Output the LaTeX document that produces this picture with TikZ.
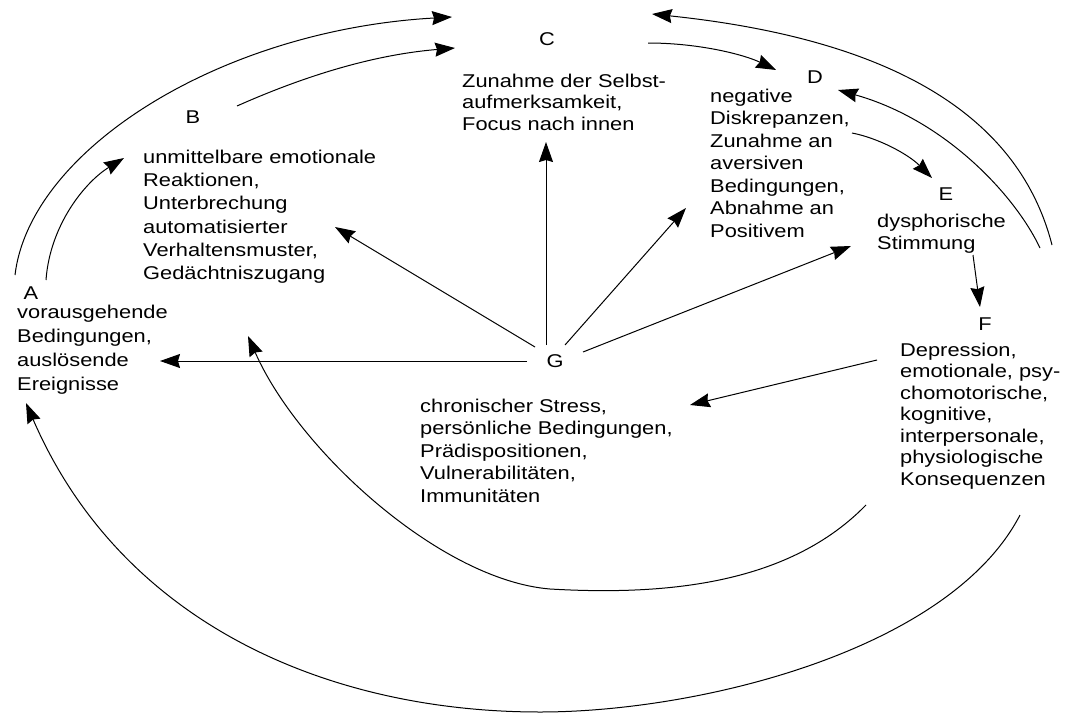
\documentclass[tikz,border=0pt]{standalone}
\usepackage{fontspec}
\setmainfont{Liberation Sans}[FakeStretch=1.18]
\usetikzlibrary{arrows.meta}
\tikzset{
  txt/.style={anchor=north west, inner sep=0pt, align=left, font=\fontsize{18.5}{#1}\selectfont},
  lab/.style={anchor=base, inner sep=0pt, font=\fontsize{18.5}{22}\selectfont},
  arr/.style={line width=1pt, -{Stealth[length=20pt,width=14pt,inset=2pt]}},
}
\newcommand{\fs}{\rule{0pt}{14pt}}
\begin{document}
\begin{tikzpicture}[x=1pt,y=-1pt]
\useasboundingbox (0,0) rectangle (1069,715);
% letters
\node[lab] (Al) at (31,299) {A};
\node[lab] (Bl) at (193,123) {B};
\node[lab] (Cl) at (547,45) {C};
\node[lab] (Dl) at (815,83) {D};
\node[lab] (El) at (946,200) {E};
\node[lab] (Fl) at (985,330) {F};
\node[lab] (Gl) at (555,367) {G};
% texts
\node[txt=24] (At) at (17,304) {\fs vorausgehende\\Bedingungen,\\auslösende\\Ereignisse};
\node[txt=23.3] (Bt) at (143,149) {\fs unmittelbare emotionale\\Reaktionen,\\Unterbrechung\\automatisierter\\Verhaltensmuster,\\Gedächtniszugang};
\node[txt=21.5] (Ct) at (462,73) {\fs Zunahme der Selbst-\\aufmerksamkeit,\\Focus nach innen};
\node[txt=22.5] (Dt) at (710,88) {\fs negative\\Diskrepanzen,\\Zunahme an\\aversiven\\Bedingungen,\\Abnahme an\\Positivem};
\node[txt=22] (Et) at (877,213) {\fs dysphorische\\Stimmung};
\node[txt=21.5] (Ft) at (900,342) {\fs Depression,\\emotionale, psy-\\chomotorische,\\kognitive,\\interpersonale,\\physiologische\\Konsequenzen};
\node[txt=22.5] (Gt) at (420,398) {\fs chronischer Stress,\\persönliche Bedingungen,\\Prädispositionen,\\Vulnerabilitäten,\\Immunitäten};
% connector end points
\coordinate (a1) at (46,280);   \coordinate (b1) at (124,158);
\coordinate (a2) at (15,275);   \coordinate (c2) at (452,17);
\coordinate (b3) at (237,106);  \coordinate (c3) at (455,48);
\coordinate (c4) at (648,43);   \coordinate (d4) at (776,70);
\coordinate (d5) at (852,133);  \coordinate (e5) at (932,178);
\coordinate (e6) at (973,255);  \coordinate (f6) at (980,307);
\coordinate (f7) at (1040,248); \coordinate (d7) at (838,90);
\coordinate (f8) at (1052,245); \coordinate (c8) at (652,14);
\coordinate (gA) at (527,361);  \coordinate (aG) at (160,361);
\coordinate (gB) at (535,347);  \coordinate (bG) at (335,227);
\coordinate (gC) at (546,345);  \coordinate (cG) at (546,142);
\coordinate (gD) at (565,345);  \coordinate (dG) at (686,208);
\coordinate (gE) at (583,352);  \coordinate (eG) at (851,246);
\coordinate (fG) at (877,360);  \coordinate (gF) at (690,405);
\coordinate (f9) at (866,505);  \coordinate (m9) at (550,589); \coordinate (b9) at (248,336);
\coordinate (f10) at (1020,515); \coordinate (m10) at (540,712); \coordinate (a10) at (26,403);
% connectors
\draw[arr] (a1) .. controls (50,225) and (85,182) .. (b1);
\draw[arr] (a2) .. controls (30,150) and (220,30) .. (c2);
\draw[arr] (b3) .. controls (300,78) and (370,55) .. (c3);
\draw[arr] (c4) .. controls (700,43) and (745,55) .. (d4);
\draw[arr] (d5) .. controls (878,138) and (908,154) .. (e5);
\draw[arr] (e6) -- (f6);
\draw[arr] (f7) .. controls (1015,195) and (945,120) .. (d7);
\draw[arr] (f8) .. controls (1020,120) and (900,40) .. (c8);
\draw[arr] (gA) -- (aG);
\draw[arr] (gB) -- (bG);
\draw[arr] (gC) -- (cG);
\draw[arr] (gD) -- (dG);
\draw[arr] (gE) -- (eG);
\draw[arr] (fG) -- (gF);
\draw[arr] (f9) .. controls (790,583) and (670,596) .. (m9) .. controls (440,580) and (298,450) .. (b9);
\draw[arr] (f10) .. controls (950,650) and (700,712) .. (m10) .. controls (330,712) and (122,625) .. (a10);
\end{tikzpicture}
\end{document}
